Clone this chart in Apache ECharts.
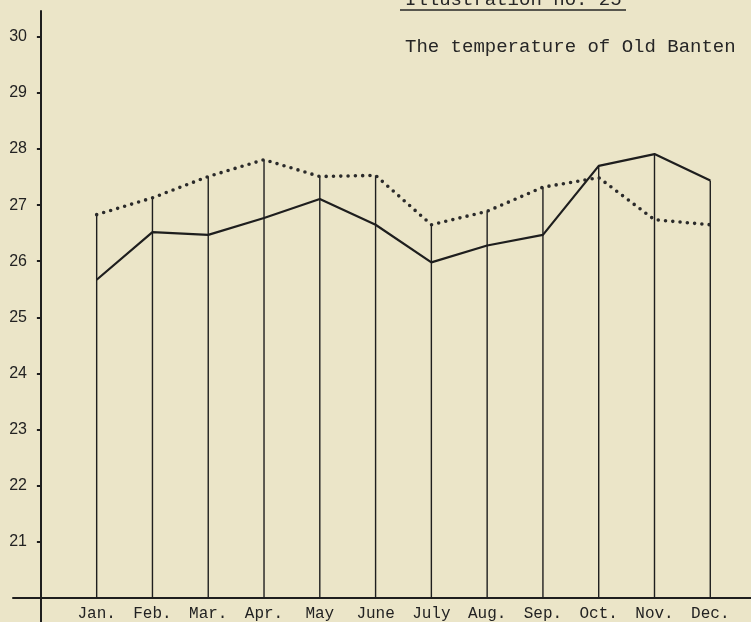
<!DOCTYPE html>
<html>
<head>
<meta charset="utf-8">
<script src="https://cdn.jsdelivr.net/npm/echarts@6/dist/echarts.min.js"></script>
<style>
  html, body { margin: 0; padding: 0; background: #ebe5c8; }
  #chart { width: 751px; height: 622px; }
</style>
</head>
<body>
<div id="chart"></div>
<script>
  // months on the x axis, placed at 1..12
  const months = ['Jan.', 'Feb.', 'Mar.', 'Apr.', 'May', 'June', 'July', 'Aug.', 'Sep.', 'Oct.', 'Nov.', 'Dec.']
  const monthPos = [1, 2, 3, 4, 5, 6, 7, 8, 9, 10, 11, 12]
  const yTicks = [21, 22, 23, 24, 25, 26, 27, 28, 29, 30]
  // temperature, solid line
  const solidTemp = [25.67, 26.52, 26.47, 26.77, 27.11, 26.65, 25.98, 26.28, 26.47, 27.70, 27.91, 27.44]
  // temperature, dotted line
  const dottedTemp = [26.83, 27.13, 27.51, 27.81, 27.51, 27.53, 26.65, 26.89, 27.32, 27.49, 26.74, 26.65]
  const AXIS_BASE = 20

  const INK = '#1e1e1e'
  const pair = (vals) => monthPos.map((x, i) => [x, vals[i]])
  const dropTops = monthPos.map((x, i) => [x, Math.max(solidTemp[i], dottedTemp[i])])

  let myChart = echarts.init(document.getElementById('chart'))
  myChart.setOption({
    backgroundColor: '#ebe5c8',
    animation: false,
    title: [
      {
        text: 'Illustration no. 25',
        left: 400,
        top: -15,
        textStyle: {fontFamily: 'Liberation Mono', fontSize: 19, fontWeight: 'normal', color: '#262626'}
      },
      {
        text: 'The temperature of Old Banten',
        left: 400,
        top: 32,
        textStyle: {fontFamily: 'Liberation Mono', fontSize: 19, fontWeight: 'normal', color: '#262626'}
      }
    ],
    graphic: [
      {
        type: 'line',
        shape: {x1: 400, y1: 10, x2: 626, y2: 10},
        style: {stroke: '#262626', lineWidth: 1.6}
      }
    ],
    grid: {left: 13, right: 0, top: 11, bottom: 0, outerBoundsMode: 'none', containLabel: false},
    xAxis: {
      type: 'value',
      min: -0.5,
      max: 12.73,
      offset: -24,
      splitLine: {show: false},
      axisTick: {show: false},
      axisLine: {show: true, lineStyle: {color: INK, width: 2}},
      axisLabel: {
        customValues: monthPos,
        formatter: (v) => months[v - 1],
        color: '#222',
        fontFamily: 'Liberation Mono',
        fontSize: 16,
        margin: 8
      }
    },
    yAxis: {
      type: 'value',
      min: 19.57,
      max: 30.46,
      splitLine: {show: false},
      axisLine: {show: true, onZero: true, lineStyle: {color: INK, width: 2}},
      axisTick: {show: true, customValues: yTicks, length: 4, lineStyle: {color: INK, width: 2}},
      axisLabel: {
        customValues: yTicks,
        color: '#222',
        fontFamily: 'Liberation Sans',
        fontSize: 16,
        margin: -14
      }
    },
    series: [
      {
        name: 'drops',
        type: 'custom',
        data: dropTops,
        renderItem: function (params, api) {
          let top = api.coord([api.value(0), api.value(1)])
          let bottom = api.coord([api.value(0), AXIS_BASE])
          return {
            type: 'line',
            shape: {x1: top[0], y1: top[1], x2: bottom[0], y2: bottom[1]},
            style: {stroke: INK, lineWidth: 1.4}
          }
        },
        z: 1
      },
      {
        name: 'solid',
        type: 'line',
        data: pair(solidTemp),
        symbol: 'none',
        lineStyle: {color: INK, width: 2.2},
        z: 3
      },
      {
        name: 'dotted',
        type: 'line',
        data: pair(dottedTemp),
        symbol: 'none',
        lineStyle: {color: '#2a2a2a', width: 3.6, type: [0, 7.3], cap: 'round'},
        z: 2
      }
    ]
  })
</script>
</body>
</html>
